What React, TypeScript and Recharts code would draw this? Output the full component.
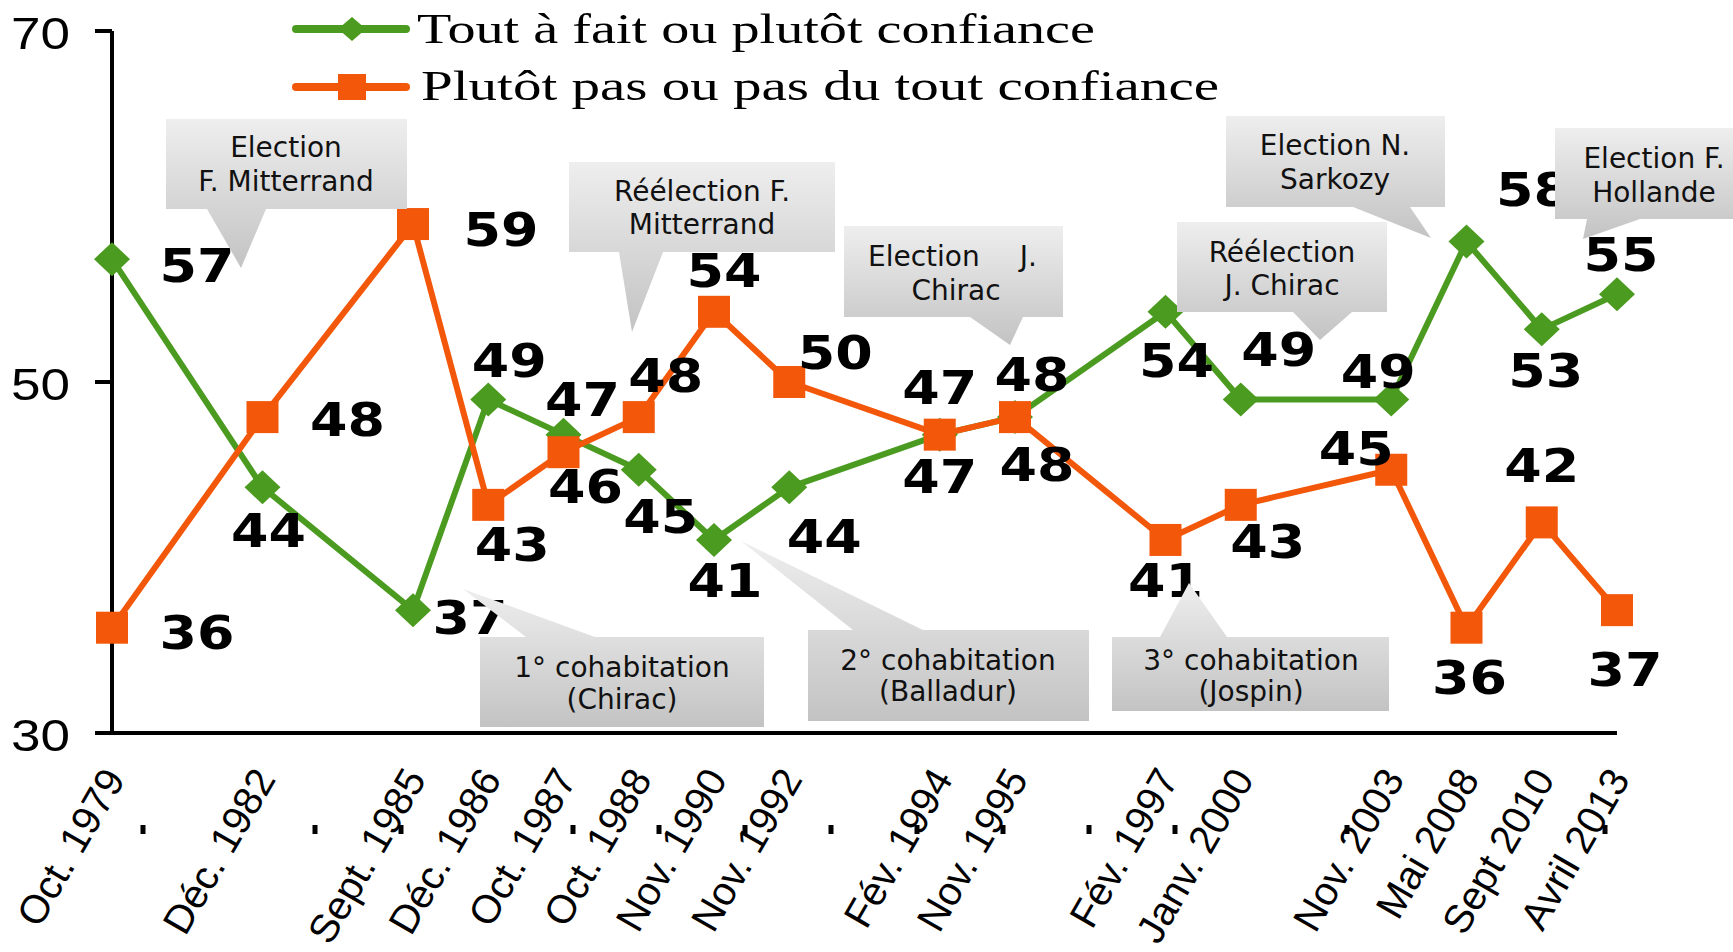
import React from 'react';
import { LineChart, Line, XAxis, YAxis, Legend, LabelList } from 'recharts';

// date slots on the axis ('' = empty slot kept for spacing)
const categories = [
  'Oct. 1979', '', 'Déc. 1982', '', 'Sept. 1985', 'Déc. 1986', 'Oct. 1987',
  'Oct. 1988', 'Nov. 1990', 'Nov. 1992', '', 'Fév. 1994', 'Nov. 1995', '',
  'Fév. 1997', 'Janv. 2000', '', 'Nov. 2003', 'Mai 2008', 'Sept 2010', 'Avril 2013',
];
const confianceValues = [57, null, 44, null, 37, 49, 47, 45, 41, 44, null, 47, 48, null, 54, 49, null, 49, 58, 53, 55];
const defianceValues = [36, null, 48, null, 59, 43, 46, 48, 54, 50, null, 47, 48, null, 41, 43, null, 45, 36, 42, 37];
const seriesNames = ['Tout à fait ou plutôt confiance', 'Plutôt pas ou pas du tout confiance'];
const seriesKeys = ['confiance', 'defiance'];
const yTicks = [30, 50, 70];
// stray dots under the axis (old tick grid, some missing)
const markTicks = [0, 2, 3, 5, 6, 7, 8, 9, 10, 11, 12, 14, 17];

const GREEN = '#4b9b21';
const ORANGE = '#f2570a';

const data = categories.map((label, i) => ({
  key: i,
  label,
  confiance: confianceValues[i],
  defiance: defianceValues[i],
  mark: null as number | null,
}));

// label placement (px from the point), by slot index
const greenLabelOffsets: Record<number, [number, number]> = {
  0: [85, 6], 2: [6, 43], 4: [57, 7], 5: [21, -40], 6: [19, -36], 7: [22, 46],
  8: [11, 40], 9: [35, 49], 11: [0, 41], 12: [22, 47], 14: [11, 48], 15: [38, -51],
  17: [-13, -29], 18: [67, -53], 19: [4, 41], 20: [4, -40],
};
const orangeLabelOffsets: Record<number, [number, number]> = {
  0: [85, 4], 2: [85, 2], 4: [88, 5], 5: [24, 39], 6: [22, 34], 7: [27, -42],
  8: [10, -42], 9: [46, -30], 11: [0, -48], 12: [17, -43], 14: [0, 40], 15: [27, 36],
  17: [-35, -22], 18: [3, 49], 19: [0, -57], 20: [8, 59],
};

const makeLabel = (offsets: Record<number, [number, number]>) => (props: any) => {
  const { x, y, value, index } = props;
  if (value == null || x == null || y == null) return null;
  const [dx, dy] = offsets[index] || [0, -40];
  return (
    <text
      x={x + dx}
      y={y + dy + 17}
      textAnchor="middle"
      fontFamily="'DejaVu Sans', Verdana, sans-serif"
      fontWeight="bold"
      fontSize={46}
      textLength={75}
      lengthAdjust="spacingAndGlyphs"
      fill="#000"
    >
      {value}
    </text>
  );
};

const renderDiamond = (p: any) => {
  const { cx, cy, index } = p;
  if (cx == null || cy == null || p.value == null) return <g key={`gd-${index}`} />;
  const w = 18;
  const h = 17;
  return (
    <path
      key={`gd-${index}`}
      d={`M${cx},${cy - h} L${cx + w},${cy} L${cx},${cy + h} L${cx - w},${cy} Z`}
      fill={GREEN}
    />
  );
};

const renderSquare = (p: any) => {
  const { cx, cy, index } = p;
  if (cx == null || cy == null || p.value == null) return <g key={`os-${index}`} />;
  return <rect key={`os-${index}`} x={cx - 16} y={cy - 16} width={32} height={32} fill={ORANGE} />;
};

const XTick = (props: any) => {
  const { x, y, payload } = props;
  const label = categories[payload.value];
  if (!label) return <g />;
  const ax = x + 14;
  const ay = y + 46;
  return (
    <text
      x={ax}
      y={ay}
      transform={`rotate(-60 ${ax} ${ay})`}
      textAnchor="end"
      fontFamily="'Liberation Sans', Arial, sans-serif"
      fontSize={40}
      fill="#000"
    >
      {label}
    </text>
  );
};

const YTick = (props: any) => {
  const { x, y, payload } = props;
  return (
    <text
      x={x}
      y={y + 18}
      textAnchor="end"
      fontFamily="'Liberation Sans', Arial, sans-serif"
      fontSize={45}
      textLength={59}
      lengthAdjust="spacingAndGlyphs"
      fill="#000"
    >
      {payload.value}
    </text>
  );
};

const MarkTick = (props: any) => {
  const { x } = props;
  if (x == null || isNaN(x)) return <g />;
  return <rect x={x - 2.5} y={825} width={5} height={9} fill="#000" />;
};

const renderLegend = (props: any) => {
  const payload = [...(props.payload || [])].sort(
    (a: any, b: any) => seriesKeys.indexOf(a.dataKey) - seriesKeys.indexOf(b.dataKey),
  );
  const rows = [
    { y: 29, base: 43, tx: 417, len: 678 },
    { y: 87, base: 100, tx: 421, len: 798 },
  ];
  return (
    <svg width={1300} height={120}>
      {payload
        .filter((entry: any) => seriesKeys.includes(entry.dataKey))
        .map((entry: any) => {
          const i = seriesKeys.indexOf(entry.dataKey);
          const r = rows[i];
          const color = i === 0 ? GREEN : ORANGE;
          return (
            <g key={entry.dataKey}>
              <line x1={296} x2={406} y1={r.y} y2={r.y} stroke={color} strokeWidth={8} strokeLinecap="round" />
              {i === 0 ? (
                <path d={`M352,${r.y - 12} L366,${r.y} L352,${r.y + 12} L338,${r.y} Z`} fill={color} />
              ) : (
                <rect x={338} y={r.y - 13} width={28} height={26} fill={color} />
              )}
              <text
                x={r.tx}
                y={r.base}
                fontFamily="'Liberation Serif', 'Times New Roman', serif"
                fontSize={43}
                textLength={r.len}
                lengthAdjust="spacingAndGlyphs"
                fill="#000"
              >
                {entry.value}
              </text>
            </g>
          );
        })}
    </svg>
  );
};

type Callout = {
  box: [number, number, number, number];
  ptr: [number, number][];
  lines: { text: string; x: number; y: number; anchor?: string }[];
};

const callouts: Callout[] = [
  {
    box: [166, 119, 407, 209],
    ptr: [[207, 209], [266, 209], [241, 268]],
    lines: [{ text: 'Election', x: 286, y: 157 }, { text: 'F. Mitterrand', x: 286, y: 191 }],
  },
  {
    box: [569, 162, 835, 252],
    ptr: [[619, 252], [663, 252], [632, 332]],
    lines: [{ text: 'Réélection F.', x: 702, y: 201 }, { text: 'Mitterrand', x: 702, y: 234 }],
  },
  {
    box: [844, 226, 1063, 317],
    ptr: [[970, 317], [1023, 317], [1010, 345]],
    lines: [
      { text: 'Election', x: 868, y: 266, anchor: 'start' },
      { text: 'J.', x: 1037, y: 266, anchor: 'end' },
      { text: 'Chirac', x: 956, y: 300 },
    ],
  },
  {
    box: [1177, 222, 1387, 312],
    ptr: [[1293, 312], [1352, 312], [1320, 340]],
    lines: [{ text: 'Réélection', x: 1282, y: 262 }, { text: 'J. Chirac', x: 1282, y: 295 }],
  },
  {
    box: [1226, 116, 1445, 207],
    ptr: [[1353, 207], [1410, 207], [1431, 238]],
    lines: [{ text: 'Election N.', x: 1335, y: 155 }, { text: 'Sarkozy', x: 1335, y: 189 }],
  },
  {
    box: [1555, 128, 1733, 219],
    ptr: [[1587, 219], [1640, 219], [1583, 239]],
    lines: [{ text: 'Election F.', x: 1654, y: 168 }, { text: 'Hollande', x: 1654, y: 202 }],
  },
  {
    box: [480, 637, 764, 727],
    ptr: [[526, 637], [595, 637], [463, 589]],
    lines: [{ text: '1° cohabitation', x: 622, y: 677 }, { text: '(Chirac)', x: 622, y: 709 }],
  },
  {
    box: [808, 630, 1089, 721],
    ptr: [[853, 630], [923, 630], [741, 541]],
    lines: [{ text: '2° cohabitation', x: 948, y: 670 }, { text: '(Balladur)', x: 948, y: 701 }],
  },
  {
    box: [1112, 637, 1389, 711],
    ptr: [[1160, 637], [1227, 637], [1189, 583]],
    lines: [{ text: '3° cohabitation', x: 1251, y: 670 }, { text: '(Jospin)', x: 1251, y: 701 }],
  },
];

function Callouts() {
  return (
    <svg
      width={1733}
      height={952}
      style={{ position: 'absolute', left: 0, top: 0, pointerEvents: 'none' }}
    >
      <defs>
        <linearGradient id="calloutFill" x1="0" y1="0" x2="0" y2="1">
          <stop offset="0%" stopColor="#eeeeee" />
          <stop offset="100%" stopColor="#c3c3c3" />
        </linearGradient>
      </defs>
      {callouts.map((c, i) => {
        const [x0, y0, x1, y1] = c.box;
        const [a, b, t] = c.ptr;
        const d =
          `M${x0},${y0} H${x1} V${y1} H${x0} Z ` +
          `M${a[0]},${a[1]} L${b[0]},${b[1]} L${t[0]},${t[1]} Z`;
        return (
          <g key={i}>
            <path d={d} fill="url(#calloutFill)" />
            {c.lines.map((l, j) => (
              <text
                key={j}
                x={l.x}
                y={l.y}
                textAnchor={l.anchor || 'middle'}
                fontFamily="'DejaVu Sans', Verdana, sans-serif"
                fontSize={28}
                fill="#111"
              >
                {l.text}
              </text>
            ))}
          </g>
        );
      })}
    </svg>
  );
}

export default function App() {
  return (
    <div style={{ position: 'absolute', left: 0, top: 0, width: 1733, height: 952, background: '#fff' }}>
      <LineChart width={1733} height={952} data={data} margin={{ top: 30, right: 116, bottom: 0, left: 0 }}>
        <XAxis
          dataKey="key"
          type="category"
          scale="point"
          padding={{ left: 0, right: 0 }}
          interval={0}
          height={219}
          tickSize={0}
          tickMargin={0}
          axisLine={{ stroke: '#000', strokeWidth: 4 }}
          tickLine={false}
          tick={<XTick />}
        />
        <XAxis
          xAxisId="marks"
          orientation="top"
          type="number"
          dataKey="key"
          domain={[0, 17]}
          allowDataOverflow
          ticks={markTicks}
          interval={0}
          height={1}
          padding={{ left: 31, right: 12 }}
          axisLine={false}
          tickLine={false}
          tick={<MarkTick />}
        />
        <YAxis
          type="number"
          domain={[30, 70]}
          ticks={yTicks}
          interval={0}
          width={112}
          tickSize={17}
          tickMargin={25}
          axisLine={{ stroke: '#000', strokeWidth: 4 }}
          tickLine={{ stroke: '#000', strokeWidth: 4 }}
          tick={<YTick />}
        />
        <Legend
          layout="horizontal"
          verticalAlign="middle"
          align="center"
          wrapperStyle={{ left: 0, top: 0, width: 1300, height: 120 }}
          content={renderLegend}
        />
        <Line
          xAxisId="marks"
          dataKey="mark"
          legendType="none"
          stroke="none"
          dot={false}
          activeDot={false}
          isAnimationActive={false}
        />
        <Line
          name={seriesNames[0]}
          dataKey="confiance"
          type="linear"
          stroke={GREEN}
          strokeWidth={6}
          strokeLinejoin="round"
          connectNulls
          dot={renderDiamond}
          activeDot={false}
          isAnimationActive={false}
        >
          <LabelList dataKey="confiance" content={makeLabel(greenLabelOffsets)} />
        </Line>
        <Line
          name={seriesNames[1]}
          dataKey="defiance"
          type="linear"
          stroke={ORANGE}
          strokeWidth={6}
          strokeLinejoin="round"
          connectNulls
          dot={renderSquare}
          activeDot={false}
          isAnimationActive={false}
        >
          <LabelList dataKey="defiance" content={makeLabel(orangeLabelOffsets)} />
        </Line>
      </LineChart>
      <Callouts />
    </div>
  );
}
